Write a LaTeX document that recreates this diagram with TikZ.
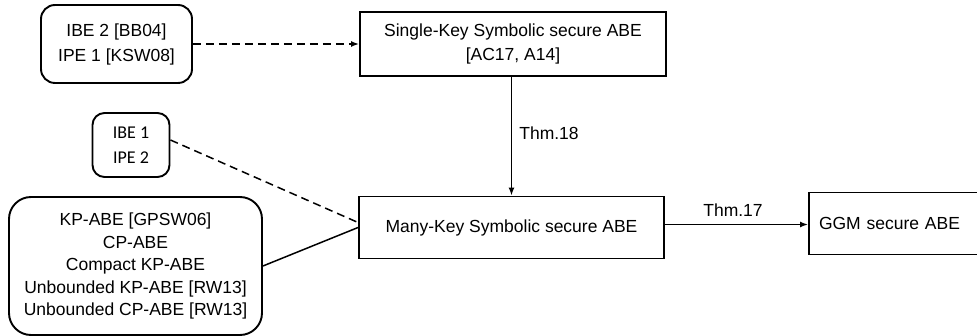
\documentclass[tikz,border=0pt]{standalone}
\usepackage{fontspec}
\setmainfont{Liberation Sans}
\newfontfamily\calfont{Carlito}
\usetikzlibrary{arrows.meta}
\begin{document}
\begin{tikzpicture}[x=1pt,y=-1pt,
  txt/.style={font=\fontsize{17.5}{24}\selectfont},
  sqbox/.style={draw,line width=1.9pt,rectangle,inner sep=0pt,align=center,txt},
  rbox/.style={draw,line width=1.9pt,rectangle,rounded corners=14pt,inner sep=0pt,align=center,txt},
  conn/.style={line width=1.5pt},
  dconn/.style={line width=1.5pt,dash pattern=on 8pt off 5pt},
  tip/.style={-{Latex[length=8pt,width=6pt]}}
]
\useasboundingbox (0,0) rectangle (977,336);
\node[rbox,minimum width=151pt,minimum height=78pt] (ibe2) at (116.5,44) {IBE 2 [BB04]\\[1pt]IPE 1 [KSW08]};
\node[sqbox,minimum width=306pt,minimum height=64pt] (single) at (513,44) {Single-Key Symbolic secure ABE\\[0pt][AC17, A14]};
\node[rbox,rounded corners=12pt,minimum width=77pt,minimum height=64pt,font=\calfont\fontsize{18}{25}\selectfont] (ibe1) at (131,145) {IBE 1\\IPE 2};
\node[rbox,rounded corners=22pt,minimum width=253pt,minimum height=138pt,font=\fontsize{17.5}{22.5}\selectfont] (kp) at (135.5,266) {KP-ABE [GPSW06]\\CP-ABE\\Compact KP-ABE\\Unbounded KP-ABE [RW13]\\Unbounded CP-ABE [RW13]};
\node[sqbox,minimum width=305pt,minimum height=62pt] (many) at (511.5,227.5) {Many-Key Symbolic secure ABE};
\node[sqbox,minimum width=200pt,minimum height=62pt,text width=180pt,align=left] (ggm) at (909,223.5) {GGM secure ABE};
\node[txt] (t18) at (549,133) {Thm.18};
\node[txt] (t17) at (733,210) {Thm.17};
\draw[dconn,tip] (ibe2.east) -- (single.west);
\draw[dconn] ([yshift=5pt]ibe1.east) -- ([yshift=5pt]many.west);
\draw[conn] (kp.east) -- (many.west);
\draw[conn,tip] (single.south -| many.north) -- (many.north);
\draw[conn,tip] ([yshift=3pt]many.east) -- ([yshift=3pt]many.east -| ggm.west);
\end{tikzpicture}
\end{document}
